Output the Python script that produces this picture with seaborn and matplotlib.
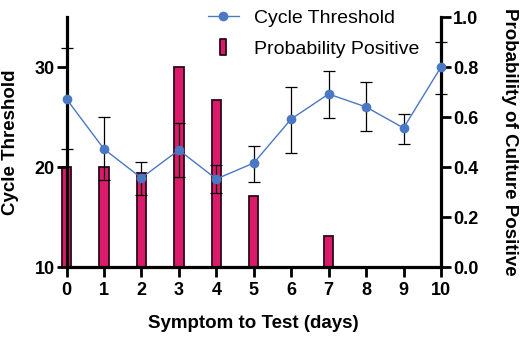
import numpy as np
import pandas as pd
import matplotlib
matplotlib.use("Agg")
import matplotlib.pyplot as plt
from matplotlib.lines import Line2D
from matplotlib.path import Path
import seaborn as sns

# ---- data ----
days = [0, 1, 2, 3, 4, 5, 6, 7, 8, 9, 10]
ct_mean = [26.8, 21.8, 18.9, 21.7, 18.8, 20.4, 24.8, 27.3, 26.0, 23.9, 30.0]
ct_low = [21.8, 18.7, 17.2, 19.0, 17.4, 18.5, 21.4, 24.9, 23.6, 22.3, 27.3]
ct_high = [31.9, 25.0, 20.5, 24.4, 20.2, 22.1, 28.0, 29.6, 28.5, 25.3, 32.5]
prob_pos = [0.40, 0.40, 0.375, 0.80, 0.667, 0.286, 0.0, 0.125, 0.0, 0.0, 0.0]
x_ticks = [0, 1, 2, 3, 4, 5, 6, 7, 8, 9, 10]
left_ticks = [10, 20, 30]
right_ticks = [0.0, 0.2, 0.4, 0.6, 0.8, 1.0]

sns.set_style("ticks")
plt.rcParams["font.family"] = ["Liberation Sans", "DejaVu Sans"]
plt.rcParams.update({"text.color": "black", "axes.labelcolor": "black",
                     "xtick.color": "black", "ytick.color": "black"})

BLUE = "#4a78c2"
MAGENTA = "#dc1a6c"
EDGE = "#2a0a16"

df_line = pd.DataFrame({"day": days, "ct": ct_mean})
df_bar = pd.DataFrame({"day": days, "prob": prob_pos})

fig = plt.figure(figsize=(5.2, 3.37), dpi=100)
ax = fig.add_axes([66.5 / 520, 1 - 267 / 337, (441 - 66.5) / 520, (267 - 17) / 337])
ax2 = ax.twinx()

# bars on the right axis
sns.barplot(data=df_bar, x="day", y="prob", ax=ax2, native_scale=True,
            width=0.25, color=MAGENTA, saturation=1, edgecolor=EDGE,
            linewidth=1.3, errorbar=None)
for p in ax2.patches:
    p.set_clip_on(False)

# line on the left axis
yerr = np.array([np.array(ct_mean) - np.array(ct_low),
                 np.array(ct_high) - np.array(ct_mean)])
ax.errorbar(days, ct_mean, yerr=yerr, fmt="none", ecolor="black",
            elinewidth=0.9, capsize=4.5, capthick=0.9, clip_on=False, zorder=2)
sns.lineplot(data=df_line, x="day", y="ct", ax=ax, color=BLUE, linewidth=1.0,
             marker="o", markersize=7, markeredgewidth=0, clip_on=False,
             zorder=3)

ax.set_zorder(ax2.get_zorder() + 1)
ax.patch.set_visible(False)

ax.set_xlim(0, 10)
ax.set_ylim(10, 35)
ax2.set_ylim(0, 1.0)
ax.set_xticks(x_ticks)
ax.set_yticks(left_ticks)
ax2.set_yticks(right_ticks)
ax2.set_yticklabels([f"{t:.1f}" for t in right_ticks])
ax.set_xticklabels([str(t) for t in x_ticks])

for a in (ax, ax2):
    a.spines["top"].set_visible(False)
    for s in ("left", "right", "bottom"):
        a.spines[s].set_linewidth(2.3)
        a.spines[s].set_color("black")
    a.tick_params(axis="both", direction="out", length=7, width=2,
                  colors="black", labelsize=13)
    for lab in a.get_xticklabels() + a.get_yticklabels():
        lab.set_fontweight("bold")
ax.spines["right"].set_visible(False)
ax2.spines["left"].set_visible(False)
ax2.spines["bottom"].set_visible(False)
ax.tick_params(axis="y", pad=1.5)
ax2.tick_params(axis="y", pad=1.5)
ax.tick_params(axis="x", pad=3.5)

ax.set_xlabel("Symptom to Test (days)", fontsize=13.5, fontweight="bold", labelpad=12)
ax.set_ylabel("Cycle Threshold", fontsize=13.5, fontweight="bold", labelpad=11)
ax2.set_ylabel("Probability of Culture Positive", fontsize=13.5, fontweight="bold",
               rotation=270, labelpad=29)
ax2.set_xlabel("")

# legend
rect_marker = Path([(-0.35, -1), (0.35, -1), (0.35, 1), (-0.35, 1), (-0.35, -1)],
                   [Path.MOVETO, Path.LINETO, Path.LINETO, Path.LINETO, Path.CLOSEPOLY])
h_line = Line2D([], [], color=BLUE, linewidth=1.0, marker="o", markersize=7,
                markeredgewidth=0)
h_bar = Line2D([], [], linestyle="none", marker=rect_marker, markersize=11,
               markerfacecolor=MAGENTA, markeredgecolor=EDGE, markeredgewidth=1.3)
fig.legend([h_line, h_bar], ["Cycle Threshold", "Probability Positive"],
           loc="upper left", bbox_to_anchor=(196 / 520, 1 + 2 / 337),
           frameon=False, fontsize=14, handlelength=1.6, handletextpad=0.8,
           labelspacing=0.65, borderpad=0.1)

fig.savefig("out.png", dpi=100)
